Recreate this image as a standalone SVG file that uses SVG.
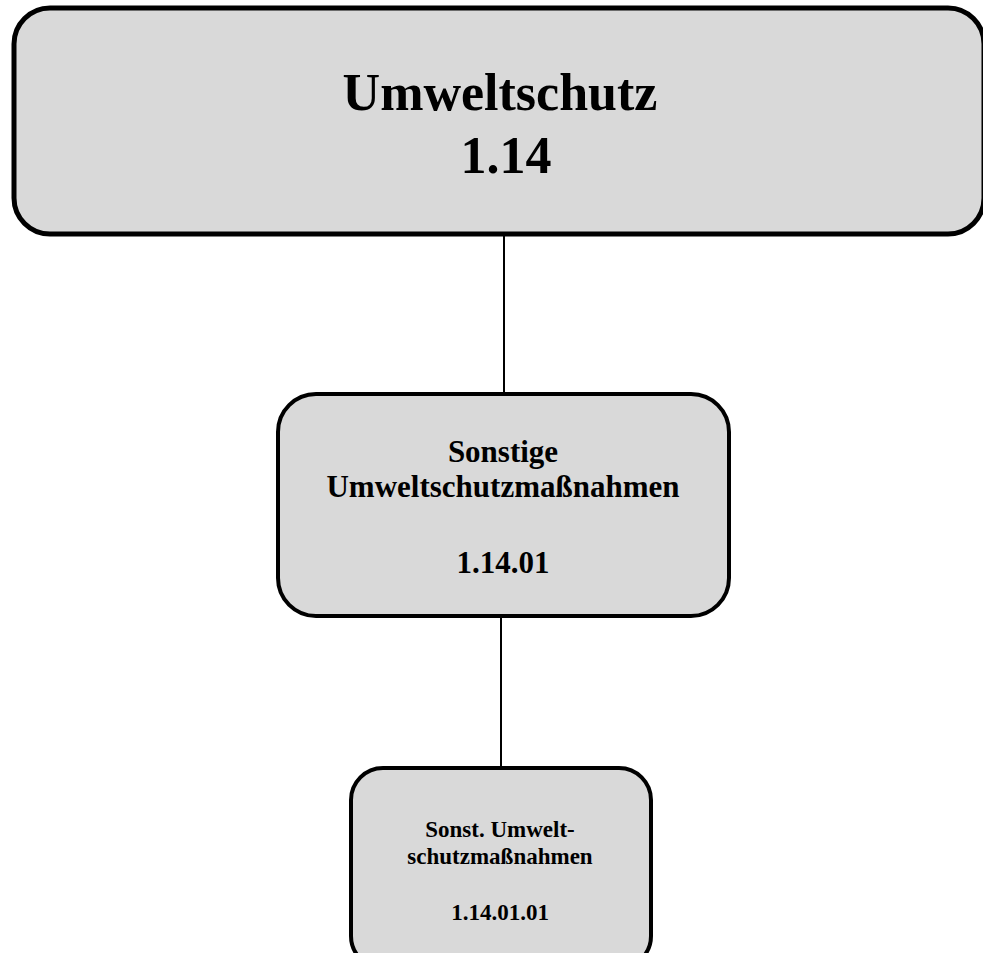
<svg xmlns="http://www.w3.org/2000/svg" width="983" height="953" viewBox="0 0 983 953">
<style>
.box{fill:#d9d9d9;stroke:#000;}
.t{font-family:"Liberation Serif","Times New Roman",serif;font-weight:bold;fill:#000;text-anchor:middle;}
.c{stroke:#000;stroke-width:2;fill:none;}
</style>
<rect width="983" height="953" fill="#fff"/>
<g id="connectors">
<line class="c" x1="504" y1="235" x2="504" y2="393"/>
<line class="c" x1="501" y1="617" x2="501" y2="767"/>
</g>
<g id="n1">
<rect class="box" x="14" y="8" width="970" height="226" rx="36" ry="36" stroke-width="5"/>
<text class="t" x="500" y="110" font-size="52">Umweltschutz</text>
<text class="t" x="506" y="173" font-size="52">1.14</text>
</g>
<g id="n2">
<rect class="box" x="278" y="394" width="451" height="222" rx="38" ry="38" stroke-width="4"/>
<text class="t" x="503" y="462" font-size="31">Sonstige</text>
<text class="t" x="503" y="497" font-size="31">Umweltschutzmaßnahmen</text>
<text class="t" x="503" y="573" font-size="31">1.14.01</text>
</g>
<g id="n3">
<rect class="box" x="351" y="768" width="300" height="200" rx="32" ry="32" stroke-width="4"/>
<text class="t" x="500" y="837" font-size="23">Sonst. Umwelt-</text>
<text class="t" x="500" y="864" font-size="23">schutzmaßnahmen</text>
<text class="t" x="500" y="920" font-size="23">1.14.01.01</text>
</g>
</svg>
